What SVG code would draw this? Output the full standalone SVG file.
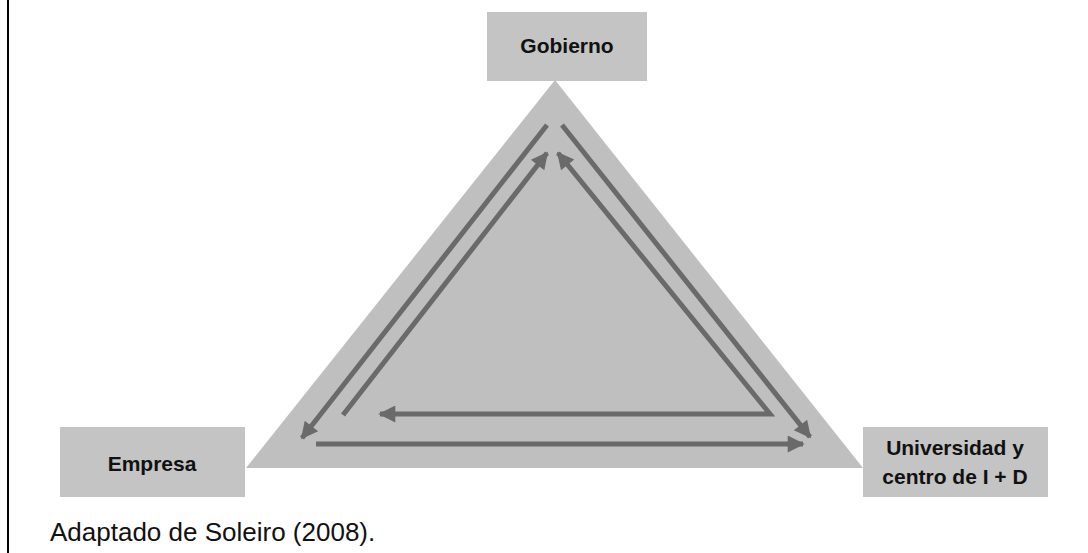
<svg xmlns="http://www.w3.org/2000/svg" width="1088" height="553" viewBox="0 0 1088 553">
<defs>
<style>
.box{fill:#c4c4c4;}
.lbl{font-family:"Liberation Sans",Arial,sans-serif;font-weight:bold;font-size:21px;fill:#111;text-anchor:middle;}
.cap{font-family:"Liberation Sans",Arial,sans-serif;font-size:26px;fill:#111;}
.arr{fill:none;stroke:#6a6a6a;stroke-width:5;stroke-linecap:butt;stroke-linejoin:miter;}
</style>
<marker id="ah" viewBox="0 0 10 10" refX="9" refY="5" markerUnits="userSpaceOnUse" markerWidth="20" markerHeight="17" orient="auto-start-reverse">
<path d="M0,0 L10,5 L0,10 Z" fill="#6a6a6a"/>
</marker>
</defs>
<rect width="1088" height="553" fill="#ffffff"/>
<line x1="8" y1="0" x2="8" y2="553" stroke="#000" stroke-width="2"/>
<polygon points="555,80 246,468 863,468" fill="#bfbfbf"/>
<g id="gobierno">
<rect class="box" x="487" y="12" width="160" height="69"/>
<text class="lbl" x="567" y="53" font-size="22">Gobierno</text>
</g>
<g id="empresa">
<rect class="box" x="60" y="427" width="185" height="70"/>
<text class="lbl" x="152" y="471">Empresa</text>
</g>
<g id="universidad">
<rect class="box" x="863" y="427" width="185" height="70"/>
<text class="lbl" x="955" y="455" font-size="22">Universidad y</text>
<text class="lbl" x="955" y="484" font-size="22">centro de I + D</text>
</g>
<g id="connectors">
<line class="arr" x1="547" y1="125" x2="302" y2="438" marker-end="url(#ah)"/>
<line class="arr" x1="343" y1="415" x2="547" y2="153" marker-end="url(#ah)"/>
<line class="arr" x1="562" y1="125" x2="810" y2="437" marker-end="url(#ah)"/>
<polyline class="arr" points="558,153 770,414 380,414" marker-start="url(#ah)" marker-end="url(#ah)"/>
<line class="arr" x1="316" y1="444" x2="803" y2="444" marker-end="url(#ah)"/>
</g>
<text class="cap" x="50" y="541">Adaptado de Soleiro (2008).</text>
</svg>
